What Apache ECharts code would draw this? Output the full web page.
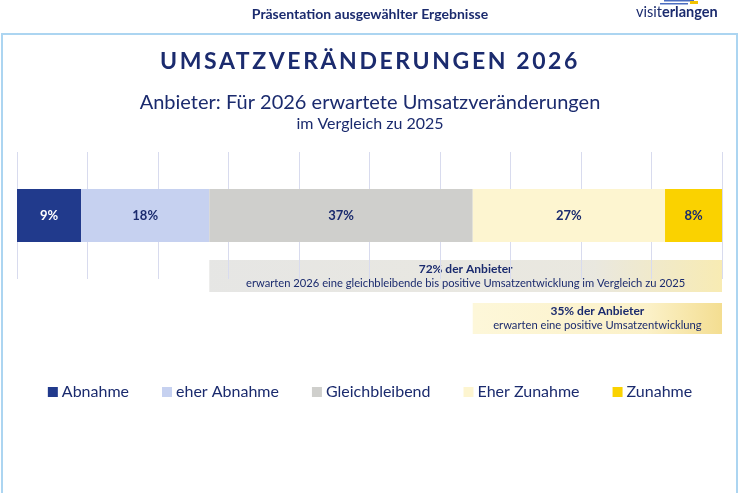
<!DOCTYPE html>
<html lang="de">
<head>
    <meta charset="UTF-8">
    <title>Umsatzveränderungen 2026</title>
    <script src="https://cdn.jsdelivr.net/npm/echarts@6/dist/echarts.min.js"></script>
    <style>
        *{
            margin: 0;
            padding: 0;
        }
        html ,body{
            width: 100%;
            height: 100%;
            overflow: hidden;
            background: #fff;
        }
        .frame{
            position: absolute;
            left: 1px;
            top: 33px;
            width: 737px;
            height: 480px;
            border: 2px solid #acd5f1;
            box-sizing: border-box;
        }
        .container{
            position: absolute;
            left: 0;
            top: 0;
            width: 740px;
            height: 493px;
        }
        .headline{
            position: absolute;
            left: 0;
            top: 46px;
            width: 740px;
            text-align: center;
            font: bold 23px Lato, sans-serif;
            letter-spacing: 2.6px;
            color: #1b2b6e;
        }
    </style>
</head>
<body>
<div class="frame"></div>
<div class="container"></div>
<div class="headline">UMSATZVERÄNDERUNGEN 2026</div>
<script>
    // Anteile in Prozent
    let categories = ['Abnahme', 'eher Abnahme', 'Gleichbleibend', 'Eher Zunahme', 'Zunahme'];
    let values = [9, 18, 37, 27, 8];
    let colors = ['#213a8c', '#c6d1f0', '#cfcfcc', '#fdf5d0', '#fad200'];
    let rowName = ['Anbieter'];

    let navy = '#1b2b6e';
    let total = values.reduce((a, b) => a + b, 0);

    let container = document.querySelector('.container');
    let mycharts = echarts.init(container);

    let series = categories.map((name, i) => ({
        name,
        type: 'bar',
        stack: 'all',
        barWidth: 53,
        data: [values[i]],
        itemStyle: {color: colors[i]},
        label: {
            show: true,
            position: 'inside',
            formatter: '{c}%',
            fontFamily: 'Lato',
            fontWeight: 'bold',
            fontSize: 13,
            color: i === 0 ? '#ffffff' : navy
        }
    }));

    let options = {
        animation: false,
        textStyle: {fontFamily: 'Lato'},
        title: {
            text: 'Anbieter: Für 2026 erwartete Umsatzveränderungen',
            subtext: 'im Vergleich zu 2025',
            left: 'center',
            top: 88,
            itemGap: 3,
            textStyle: {fontFamily: 'Lato', fontWeight: 'normal', fontSize: 20, color: navy},
            subtextStyle: {fontFamily: 'Lato', fontSize: 16, color: navy}
        },
        grid: {left: 17, right: 18, top: 152, bottom: 214},
        xAxis: {
            type: 'value',
            min: 0,
            max: total,
            interval: total / 10,
            axisLabel: {show: false},
            axisLine: {show: false},
            axisTick: {show: false},
            splitLine: {lineStyle: {color: '#d8dbee', width: 1}}
        },
        yAxis: {
            type: 'category',
            data: rowName,
            show: false
        },
        legend: {
            data: categories,
            top: 379,
            left: 'center',
            icon: 'rect',
            itemWidth: 10,
            itemHeight: 10,
            itemGap: 33,
            selectedMode: false,
            textStyle: {fontFamily: 'Lato', fontSize: 16, color: navy, padding: [0, 0, 0, -1]}
        },
        graphic: [
            {
                type: 'text',
                left: 'center',
                top: 7,
                style: {text: 'Präsentation ausgewählter Ergebnisse', font: 'bold 14px Lato', fill: navy}
            },
            {
                type: 'text',
                left: 636,
                top: 5,
                style: {
                    text: '{a|visit}{b|erlangen}',
                    rich: {
                        a: {font: '14.5px Lato', fill: navy},
                        b: {font: 'bold 14.5px Lato', fill: navy}
                    }
                }
            },
            {type: 'rect', shape: {x: 664, y: 0, width: 30, height: 1.5}, style: {fill: '#4a6cc0'}},
            {type: 'rect', shape: {x: 660, y: 3, width: 28, height: 1.5}, style: {fill: '#4a6cc0'}},
            {type: 'rect', shape: {x: 690, y: 1, width: 8, height: 3}, style: {fill: '#f2c200'}}
        ],
        series
    };

    mycharts.setOption(options);

    // Hinweisboxen unter dem Balken, an den Achsenwerten ausgerichtet
    let boxes = [
        {from: 2, y: 260, h: 32, grad: ['#e2e2e0', '#e6e4da', '#f7e8a6'], stops: [0, 0.75, 1],
         text: 'erwarten 2026 eine gleichbleibende bis positive Umsatzentwicklung im Vergleich zu 2025'},
        {from: 3, y: 303, h: 31, grad: ['#fdf6d3', '#fbefbf', '#f2d87e'], stops: [0, 0.7, 1],
         text: 'erwarten eine positive Umsatzentwicklung'}
    ];
    let extra = [];
    boxes.forEach((b, k) => {
        let start = values.slice(0, b.from).reduce((a, c) => a + c, 0);
        let share = values.slice(b.from).reduce((a, c) => a + c, 0);
        let x0 = mycharts.convertToPixel({xAxisIndex: 0}, start);
        let x1 = mycharts.convertToPixel({xAxisIndex: 0}, total);
        extra.push({
            type: 'rect',
            id: 'box' + k,
            z: -1,
            shape: {x: x0, y: b.y, width: x1 - x0, height: b.h},
            style: {
                opacity: 0.85,
                fill: new echarts.graphic.LinearGradient(0, 0, 1, 0,
                    b.grad.map((c, j) => ({offset: b.stops[j], color: c})))
            }
        });
        extra.push({
            type: 'text',
            id: 'txt' + k,
            x: (x0 + x1) / 2,
            y: b.y + b.h / 2,
            style: {
                text: '{h|' + share + '% der Anbieter}\n{t|' + b.text + '}',
                align: 'center',
                verticalAlign: 'middle',
                rich: {
                    h: {font: 'bold 12px Lato', fill: navy, lineHeight: 14},
                    t: {font: '11.2px Lato', fill: navy, lineHeight: 14}
                }
            }
        });
    });
    mycharts.setOption({graphic: options.graphic.concat(extra)});
</script>
</body>
</html>
